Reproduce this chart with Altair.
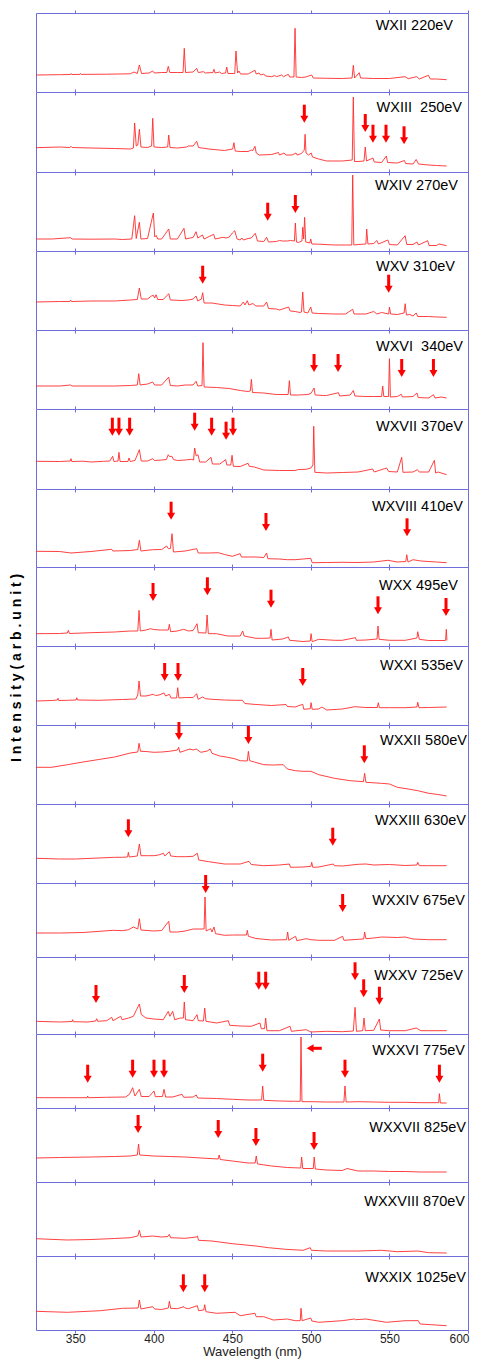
import altair as alt
import pandas as pd

# ---------------- data ----------------
labels = ["WXII 220eV", "WXIII\u00a0 250eV", "WXIV 270eV", "WXV 310eV", "WXVI\u00a0 340eV",
          "WXVII 370eV", "WXVIII 410eV", "WXX 495eV", "WXXI 535eV", "WXXII 580eV",
          "WXXIII 630eV", "WXXIV 675eV", "WXXV 725eV", "WXXVI 775eV", "WXXVII 825eV",
          "WXXVIII 870eV", "WXXIX 1025eV"]

s1 = [(325,17),(340,17.3),(347,17.5),(347.3,18.5),(347.8,17.5),(353,17.6),(353.3,18.5),(353.8,17.6),(370,17.8),(385,18.2),(387.4,20),(389.5,18.5),(390.8,27),(392.2,18.5),(397,19),(399.3,21),(400.3,19),(405,19.5),(408.3,19.5),(409.2,25.7),(410.2,19.5),(415,19.5),(418.6,19.5),(419.4,43.7),(420.2,19.5),(425,20),(427.3,23.7),(428.3,19.5),(431.5,20.3),(433,19),(437.6,19.5),(438.3,22.7),(439,19),(442,20),(443,18.5),(445.7,19),(446.4,25),(447.2,18.5),(451.5,18.5),(452.3,41),(453.3,19),(454.2,21),(455.2,18),(460,18),(464.4,21.7),(465.2,18),(467,19),(468,17),(470,18),(471,16),(475,15.3),(477,16.5),(478,15.3),(481.4,17),(482.5,15.3),(485.6,17.7),(486.5,15),(489.2,15),(489.9,63.7),(490.6,15),(494,14.5),(496.7,15),(498.5,16),(500.5,17),(501.5,14),(510,13.7),(520,13.5),(526.2,14),(527,26.7),(527.8,14),(530.8,19.3),(531.6,14),(540,13.5),(550,13.5),(559.9,15.3),(562,13.3),(567.3,15.3),(569,13),(574.8,16.7),(576,13),(580,13),(586.4,12.3)]
s2 = [(325,24.3),(340,25),(346.5,24.5),(347.3,25.7),(348,24.5),(360,24),(375,23.5),(385,23),(387,24),(387.8,49),(388.8,26),(389.8,27),(390.8,42.7),(391.8,25),(396,24.5),(398.6,26),(399.3,53.7),(400.1,25),(405,24.5),(408.8,25),(409.5,37),(410.3,24.5),(415,24),(421,25),(422,26),(425,26),(427.3,30.7),(428.5,24.5),(435,23),(445,21.5),(450.2,23),(451,29.3),(451.8,21),(455,20.5),(460,20.5),(462,22),(463,21.5),(464.4,25.7),(465.2,19),(467,17),(475,17.5),(479.3,19.5),(480,17),(483,19),(484,17),(488,17),(490.5,19),(491.3,17),(494,18.5),(495.8,22),(496.3,37.7),(496.9,19),(498.5,17),(500.2,19),(501,15),(505,13),(510,11),(520,11),(526.3,12),(527,75),(527.7,10.5),(530,10.5),(533.8,11),(534.6,25),(535.4,11),(539.5,14),(540.3,10),(545,9.5),(548,16),(548.8,9.5),(555,9),(559.5,11.5),(560.3,8.5),(565,8),(567,12.5),(568.5,8),(575,7),(580,6.5),(586.4,6)]
s3 = [(325,12),(335,12),(347,13.3),(348,12),(360,11.8),(375,12),(380,11.5),(386,12),(387.8,35.3),(388.8,12.5),(390.8,28.7),(391.8,12),(396,12.5),(399.7,38),(400.6,14),(401.5,15.5),(402.5,12),(405,12),(409.5,22),(410.5,12),(415,12),(419.2,22.7),(420.2,12),(423,13),(425,13.5),(426.9,19.3),(428,13),(431,16),(432,12),(438.1,16.7),(439,12),(444,13.7),(446,13),(448,14),(450,18),(451.5,20.3),(453,12),(455,11),(456,13),(457,11),(460,12.5),(462,13),(464.6,17.7),(466,10),(470,9.5),(471.8,13.7),(473,9),(478,9.5),(480,10.5),(482,10),(485,10),(487,10.5),(489.5,10),(490.1,28),(490.8,9),(492,8.5),(494.3,10),(494.8,23.7),(495.4,12),(496,33.7),(496.7,9),(499.3,8),(499.9,12),(500.6,7),(505,6.8),(515,6),(522,6),(526,6),(526.6,76),(527.3,6),(530,6.5),(535,7),(535.5,22),(536.3,7),(540,7.5),(542,10.5),(543,7),(549,11),(550,6.5),(555,6),(560,15.3),(561,6.5),(565,6.5),(567.5,9),(568.5,6),(574.3,10.3),(575.2,5.5),(580,5.5),(581.5,7),(586.4,5.3)]
s4 = [(325,28),(340,28.5),(346.5,28.5),(347,30),(347.6,28.5),(360,29),(375,29),(385,30),(389.5,30.5),(390.8,42),(392,31),(396,31),(398.5,34),(399.7,34.7),(400.5,32),(401.4,35.3),(402.5,30.5),(406,30.5),(409.5,36.3),(410.5,30),(418,29.5),(422,30),(425,31),(426.9,34),(428,29),(430.3,31),(431.1,37.3),(432,27),(437,27),(445,25),(450,24.5),(455,24),(457,28),(458,25),(459.5,29.3),(460.5,25),(463,26.5),(465,24),(470,24),(471.8,28),(473,21.5),(478,21),(480,20),(485.8,23),(486.8,19),(490,18.5),(493,17.5),(494,18),(494.8,38),(495.6,18),(498,17),(499.9,23),(500.8,17),(505,16.5),(515,16),(522,16),(526.6,20.7),(527.5,16),(535,16),(540,18.5),(542,16),(545,17.5),(549.5,16),(550,23),(550.7,16),(555,15.5),(559.3,17),(560,26.3),(560.8,15),(563,15.5),(565,14),(567,17),(568,13.5),(575,13.5),(580,13),(586.4,12.7)]
s5 = [(325,23),(340,23),(347,24),(348,23),(360,23),(375,23),(385,23.5),(389.5,24),(390.4,35.3),(391.3,24),(396,25),(399.3,27),(400.5,24),(405,24),(409.5,32),(410.5,23.5),(415,23),(420,24),(425,24),(426.9,27.7),(428,23),(430.7,23.5),(431.3,66.3),(432,22),(440,21.5),(448,20.5),(455,18.5),(460,17.5),(461.4,18),(462.1,29.7),(462.8,16.5),(470,16),(478,14.5),(485.5,14.5),(486.3,28.3),(487,14),(492,14),(498,14.5),(500,15.5),(502,21),(502.7,14),(508,13.5),(510,13.5),(517.5,16.3),(518.3,13),(525,14),(527,18.5),(528,13),(535,12.5),(540,12.5),(545,12.5),(545.7,23),(546.4,12.5),(549.4,12.5),(550,50.3),(550.6,12),(555,12.5),(557.5,14.7),(558.3,12),(565,12.5),(567.5,16),(568.3,11.5),(575,11),(578,14.3),(579,11),(583,12),(586.4,11)]
s6 = [(325,27.7),(340,27.5),(346.8,28),(347.3,30.3),(347.8,27.5),(355,27.8),(360,27),(368,27.7),(372,28),(373.8,32.7),(374.6,27.5),(377.2,28),(377.8,36.7),(378.5,27.5),(383.5,27.5),(384.2,31),(385,27.5),(388,28.5),(390.8,39.3),(392,28),(396,28),(399.3,30.3),(400.5,28.5),(405,29),(408,29.5),(409.2,34.3),(410,32.5),(411.5,32.7),(412.5,29.5),(415,28.5),(420,29),(424,29.7),(425.3,29),(426,41),(427,33),(428.1,34.3),(429.2,27),(433,27),(436.4,31.7),(437.3,25),(442,25),(445.7,29.3),(446.5,24),(449,24),(449.8,33.7),(450.6,22.7),(455,22.5),(460,25.7),(460.8,22.7),(464,22),(470,19),(480,18.5),(490,18.5),(492,19.5),(497,19.7),(500,21),(501.3,24),(501.8,62.7),(502.5,16.7),(510,16),(520,16.5),(530,17),(539.3,20),(540.3,17),(548.2,21),(549.5,17.5),(555,17),(557.8,31.7),(558.6,16.7),(565,17),(567.8,19.3),(569,17),(575,17),(578.6,28.7),(579.4,16),(581,17),(586.4,14.3)]
s7 = [(325,15.7),(340,15.5),(347.3,14),(360,15.5),(373.2,17.7),(374,16),(385,16.5),(389.8,17.5),(390.8,26.7),(391.8,16),(399.3,17.3),(405,17.5),(408.2,21),(409.3,18.3),(410.6,18.5),(411.6,33.3),(412.5,15),(420,16),(427.3,18.3),(428.3,14),(435,14),(441.1,14.3),(445,12.5),(450,10.7),(454.9,13.3),(455.8,10),(465,10),(470,9.5),(471.8,14),(472.6,8.3),(480,8),(485,7.3),(490,7.3),(499.9,8.7),(500.8,4.3),(510,4.5),(520,4.7),(530,4.5),(540,5),(549,6.7),(555,5),(560.4,5.5),(561,12.3),(561.8,5),(565,7.3),(570,6),(580,5),(586.4,4.3)]
s8 = [(325,12.3),(340,12.5),(345,13),(345.6,15.7),(346.3,12.5),(360,13.3),(375,14),(385,15),(389.8,15),(390.6,35.7),(391.4,15),(395,16),(398,17.3),(400,16.5),(404,16),(409.2,16),(409.9,21.7),(410.7,14.3),(415,15),(419,16.7),(422,15),(425,15.5),(427.5,22.3),(428.3,13.3),(433.2,13),(433.9,31),(434.7,12.3),(440,12.3),(447,10),(455,10),(456.6,15),(457.5,10),(465,7.7),(470,7.7),(474,8),(474.6,16.7),(475.3,6),(482,7),(485.6,9),(486.5,5.7),(495,4.5),(499.6,5),(500.1,12.3),(500.8,4.3),(505,6.7),(515,5.7),(520,5.7),(528.3,8.3),(529,5.7),(535,6),(542.1,7),(542.7,20),(543.4,6.7),(550,5.7),(560,5.7),(567.5,8),(568,14.3),(569,6.7),(575,5.5),(585.7,5.5),(586.2,16.7),(586.6,5.7)]
s9 = [(325,24),(335,24.5),(338.5,25),(339,26.7),(339.5,24.5),(345,24.7),(350.5,25),(350.9,27.3),(351.5,25),(365,24.7),(380,25.5),(388.5,26),(389.8,30),(390.6,44),(391.5,29),(395,29),(399.7,30.7),(401,29.5),(403.3,30),(406.5,32),(407.5,29),(409.9,30.7),(411,27),(414.5,27),(415.2,37.3),(416,27),(420,27.5),(425,27.5),(427.3,31.3),(428.2,25.7),(431,28),(433,26.3),(437,25.7),(445,25),(452,24.7),(456.4,24.7),(458,21.5),(465,20.5),(475,19.5),(484.2,20.5),(485,18.5),(490,18),(494.8,20.7),(495.5,15.7),(499.6,16.3),(500.1,22.3),(500.8,15.7),(505,16),(507,18),(510,15),(520,16),(528,18.3),(535,17.5),(542.3,17.5),(542.9,22.3),(543.6,17.3),(550,17.3),(560,17.3),(567.5,18),(568,22.7),(568.8,17.3),(575,17.5),(586.4,18)]
s10 = [(325,36.7),(335,36.7),(345,39.3),(355,42),(365,44.5),(375,47),(385,51),(389.8,52),(390.6,60.7),(391.5,52.7),(395,52.5),(400,51.7),(405,52),(410,52.7),(415,54),(415.8,56.7),(416.6,51.7),(420,53.5),(423,55),(425,54),(427,55),(430,51.7),(434,53),(435.8,55),(437,50.7),(442,48),(447,46.7),(451,45.5),(455,43.3),(459.5,43),(460.2,52.7),(461,43.3),(464,42),(470,39.3),(476,39),(482.4,39.3),(485,35),(490,33.3),(495,32.7),(500,32.7),(505,29.3),(515,25.7),(525,23.3),(533.4,22.3),(534.2,30.7),(535,21.7),(545,20.7),(550,20),(555,16.7),(562,15),(568,13.3),(575,10.7),(581,9.5),(586.4,8)]
s11 = [(325,24.7),(340,24),(350,24),(365,25),(375,25.7),(380,25.7),(383.3,26),(383.8,30.7),(384.4,26),(389.5,27),(390.8,39),(391.8,27.3),(396,27.3),(400,27.3),(403,28),(406.1,29.7),(407,27),(409.9,31.3),(410.8,27),(415,26.3),(420,26.3),(425,26.7),(427.7,29.7),(428.6,23),(435,21.3),(445,19),(455,19),(460.6,21.7),(462,18.5),(470,17.3),(480,18),(486.3,19),(487,15.7),(495,16),(500,16.7),(500.5,20.7),(501.2,15.7),(505,16),(514.3,19),(515,17.3),(520,17),(530,18.7),(535,19),(540,18),(550,18.5),(560,17.5),(567.5,18),(568,20.7),(569,17.3),(575,17.3),(586.4,17.3)]
s12 = [(325,24),(340,24),(355,24.5),(374.2,26.7),(380,26.3),(384,27.3),(387,30),(389.8,28),(390.8,38.3),(391.8,27),(400,26),(405,26.5),(409.5,35.7),(410.3,25),(415,25),(420,26),(425,28),(432,28),(432.6,60),(433.3,26),(436.2,28.3),(437,25),(438.3,30),(439.3,23.3),(445,21.7),(450,22),(459,22),(459.5,26.7),(460.2,20.7),(465,18.5),(475,17),(484.5,17.3),(485.2,25),(485.9,16.7),(490.3,20.7),(491,16.3),(497,18.3),(500,17.3),(505,16.7),(515,16.7),(520.2,20.7),(521,16.7),(530,17.7),(533.6,18),(534.2,25),(535,18.3),(540,19),(545,20),(555,19.5),(560,20),(565,18),(575,17.3),(586.4,17.3)]
s13 = [(325,12.7),(340,12),(348,12.5),(348.3,14.3),(348.8,12.3),(358,12),(363,13),(363.6,15.3),(364.3,12.7),(370,13.3),(373.2,16.7),(374,13.3),(378.9,17.7),(379.8,14.3),(384,16),(387,17.7),(389,24.3),(390.8,30),(392,19.5),(395,16),(400,15),(406,14.3),(409.2,22.7),(410.2,17.7),(412,22.7),(413.3,14.3),(417,16),(418.8,16),(419.4,32),(420.2,14.3),(425,13.3),(427.5,19.3),(428.3,13.3),(431.6,13),(432.4,26),(433.2,12.7),(440,11),(447.4,13.3),(448.3,8.7),(455,8),(462,7.7),(467.6,11),(468.4,5.3),(470.5,5.3),(471.2,16),(472,3.3),(480,3.3),(486.7,7.7),(487.6,2.7),(497,4.3),(500,2),(510,2.7),(520,2.3),(527,3),(528.1,26.7),(529,2.7),(533,3.3),(533.8,16),(534.6,3.3),(540,3.7),(543.6,15),(544.4,4),(550,3.3),(560,3.3),(567,6),(570,3.3),(586.4,3.3)]
s14 = [(325,10.3),(345,10.3),(357.5,10.3),(357.9,12),(358.3,10.3),(370,10.7),(382,11),(384.5,13.7),(386.5,20.3),(388,12),(390.8,18.7),(392,11.5),(397,11.5),(400.1,17),(401,11.3),(405.5,11.5),(406.5,18.7),(407.5,11),(412,11),(418,13.7),(419,10.7),(425,11),(427,13),(428,10),(440,9.5),(450,8.7),(460,8),(468.6,8),(469.3,22),(470,7.7),(480,7),(490,6.7),(493.2,6.7),(493.7,71),(494.3,6.3),(500,6.3),(510,6),(521,6),(521.7,22),(522.4,6),(530,6.3),(540,6),(550,5.7),(560,5.7),(570,5.3),(581.3,5.3),(581.8,14.3),(582.4,5),(586.4,5)]
s15 = [(325,24),(340,24.5),(360,25),(375,25.5),(385,26),(389.5,27),(390.3,38),(391,27),(400,26),(410,25.5),(420,25),(430,24),(441,23),(441.6,27),(442.3,22.5),(450,21),(460,19),(464.5,19),(465.2,26),(466,18),(475,16),(485,14.5),(493.5,14),(494.1,25),(494.8,13.5),(501.5,13.5),(502.1,25),(502.8,13),(510,12),(520,11.5),(523,13.5),(530,11),(540,11),(550,10.5),(560,10.5),(570,10),(586.4,10)]
s16 = [(325,17.3),(345,16),(360,16.5),(375,17.5),(385,18.3),(389.8,20),(390.8,25.7),(391.8,19),(399.3,20),(405,19),(409,19.5),(409.9,21.7),(410.7,18.3),(420,17.7),(427,19),(427.7,20),(428.5,15.7),(437,15),(450,12.3),(465,10),(473,8.3),(484,6.7),(495,5.7),(499.6,8.3),(500.3,5.7),(510,5),(530,5),(545,5.7),(555,4.3),(568,5),(575,3.3),(586.4,3)]
s17 = [(325,18.7),(345,17.7),(366,19.3),(380,21.7),(390,22),(390.8,30),(391.8,21),(399.3,23.3),(400.5,21),(405,20.5),(409.2,22),(409.9,28.7),(410.7,21.7),(415,21.3),(419.2,23.3),(420,22),(422,21.3),(427.7,24.3),(428.5,19.3),(431.8,20),(432.4,25.3),(433.2,18.3),(440,16.7),(451.7,17.7),(455,14.3),(464.4,16.7),(465.2,13.3),(470,13.3),(476,10),(485,11),(490,9.3),(493.2,9.3),(493.7,21.7),(494.4,9.3),(499.9,12),(500.6,9),(505,7.7),(520,9.3),(527.6,11),(528.5,10.3),(535,11),(548,7.7),(560,9.3),(568.4,9.3),(569.5,6),(586.4,4.3)]
spectra = [s1, s2, s3, s4, s5, s6, s7, s8, s9, s10, s11, s12, s13, s14, s15, s16, s17]

# down arrows: panel index -> (wavelength, intensity at arrow tip)
arrows = {
    1: [(495.8,49.3),(534.6,40),(539.5,29.3),(547.8,29.3),(559.3,27.7)],
    2: [(472.5,30.3),(490.1,38)],
    3: [(431.1,46.3),(549.5,37.3)],
    4: [(502,37),(517.3,37),(557.8,32),(578,32)],
    5: [(373.6,53.3),(377.8,53.3),(384.6,53.3),(426,58.3),(436.8,53.3),(446,49.3),(450.4,53.3)],
    6: [(411,47.3),(471.4,36),(561.2,30.7)],
    7: [(399.5,45),(434.1,50.7),(474.6,38.3),(542.7,31.7),(586,30)],
    8: [(406.9,44),(415.4,44),(494.8,39)],
    9: [(416,64),(460.2,60),(534,40.7)],
    10: [(383.8,45.7),(513.9,37.3)],
    11: [(433,64),(520.2,45)],
    12: [(363.2,31),(419.4,41),(466.8,44.3),(471.2,44.3),(528.1,53.7),(533.6,36.7),(543.6,29.3)],
    13: [(357.9,25.3),(386.5,30.3),(400.1,30.3),(406.5,30.3),(469.3,36.3),(521.7,30.3),(581.8,25.3)],
    14: [(390,49),(441,44),(465,36),(502,32)],
    16: [(418.8,37.7),(432.4,37.7)],
}
# left-pointing arrow (panel WXXVI): tip wavelength, tail wavelength, intensity
left_arrow = {13: (497.3, 506.9, 59.7)}

# ---------------- layout / style ----------------
heights = [79, 80, 79, 79, 79, 80, 78, 79, 79, 79, 79, 74, 77, 74, 74, 74, 74]
label_right = [417, 426, 422, 419, 427, 427, 427, 422, 427, 431, 430, 429, 427, 429, 430, 429, 430]
label_dy = [13, 15.7, 13.7, 16, 17, 18, 18, 19, 20, 16, 17, 18, 19, 17, 20, 20, 21.7]
W = 432
WL_DOMAIN = [325, 600]
TICKS = [350, 400, 450, 500, 550, 600]
FRAME = "#6e6edc"
LINE = "#ff2b2b"
RED = "#ff0000"
FONT = "Liberation Sans"

panels = []
n = len(spectra)
for i in range(n):
    H = heights[i]
    last = i == n - 1
    xs = alt.Scale(domain=WL_DOMAIN, nice=False, zero=False)
    ys = alt.Scale(domain=[0, H], nice=False)
    df = pd.DataFrame(spectra[i], columns=["wl", "I"])
    df["o"] = range(len(df))

    if last:
        bax = alt.Axis(orient="bottom", values=TICKS, tickSize=3, tickColor=FRAME, domain=False,
                       grid=False, labels=True, labelFontSize=12, labelColor="#222222",
                       labelFont=FONT, labelPadding=0, labelFlush=True, labelFlushOffset=1,
                       title="Wavelength (nm)", titleFont=FONT,
                       titleFontSize=13, titleFontWeight="normal", titleColor="#222222",
                       titlePadding=1.5)
    else:
        bax = alt.Axis(orient="bottom", values=TICKS, tickSize=3, tickColor=FRAME, domain=False,
                       grid=False, labels=False, title=None)
    tax = alt.Axis(orient="top", values=TICKS, tickSize=3, tickColor=FRAME, domain=False,
                   grid=False, labels=False, title=None)

    line = alt.Chart(df).mark_line(color=LINE, strokeWidth=0.9).encode(
        x=alt.X("wl:Q", scale=xs, axis=bax),
        y=alt.Y("I:Q", scale=ys, axis=None),
        order="o:Q",
    )
    ghost = alt.Chart(df).mark_line(opacity=0).encode(
        x=alt.X("wl:Q", scale=xs, axis=tax),
        y=alt.Y("I:Q", scale=ys, axis=None),
    )
    lab = alt.Chart(pd.DataFrame({"t": [labels[i]]})).mark_text(
        align="right", baseline="middle", font=FONT, fontSize=14.5, color="black"
    ).encode(text="t:N", x=alt.value(label_right[i]), y=alt.value(label_dy[i]))
    layers = [line, ghost, lab]

    if i in arrows:
        da = pd.DataFrame(arrows[i], columns=["wl", "tip"])
        base = alt.Chart(da).transform_calculate(
            y1="datum.tip + 6", y2="datum.tip + 18", yh="datum.tip + 3.5")
        shaft = base.mark_rule(color=RED, strokeWidth=3).encode(
            x=alt.X("wl:Q", scale=xs, axis=None),
            y=alt.Y("y1:Q", scale=ys, axis=None), y2="y2:Q")
        head = base.mark_point(shape="triangle-down", filled=True, color=RED, size=64,
                               opacity=1, strokeWidth=0).encode(
            x=alt.X("wl:Q", scale=xs, axis=None),
            y=alt.Y("yh:Q", scale=ys, axis=None))
        layers += [shaft, head]
    if i in left_arrow:
        tip, tail, h = left_arrow[i]
        dl = pd.DataFrame({"tip": [tip], "tail": [tail], "h": [h]})
        lbase = alt.Chart(dl).transform_calculate(xh="datum.tip + 2.2", xs="datum.tip + 3.5")
        lshaft = lbase.mark_rule(color=RED, strokeWidth=3).encode(
            x=alt.X("xs:Q", scale=xs, axis=None), x2="tail:Q",
            y=alt.Y("h:Q", scale=ys, axis=None))
        lhead = lbase.mark_point(shape="triangle-left", filled=True, color=RED, size=64,
                                 opacity=1, strokeWidth=0).encode(
            x=alt.X("xh:Q", scale=xs, axis=None),
            y=alt.Y("h:Q", scale=ys, axis=None))
        layers += [lshaft, lhead]

    panel = alt.layer(*layers).resolve_axis(x="independent").properties(width=W, height=H)
    panels.append(panel)

chart = alt.vconcat(*panels, spacing=0, bounds="flush").properties(
    title=alt.TitleParams(
        "I n t e n s i t y ( a r b . u n i t )", orient="left", anchor="middle",
        font=FONT, fontSize=14, fontWeight="bold", color="black", offset=9.5, dx=16),
    padding={"left": 2, "top": 1, "right": 0, "bottom": 0},
).configure_view(stroke=FRAME, strokeWidth=1)

chart.save("out.html", embed_options={"renderer": "svg", "actions": False})
